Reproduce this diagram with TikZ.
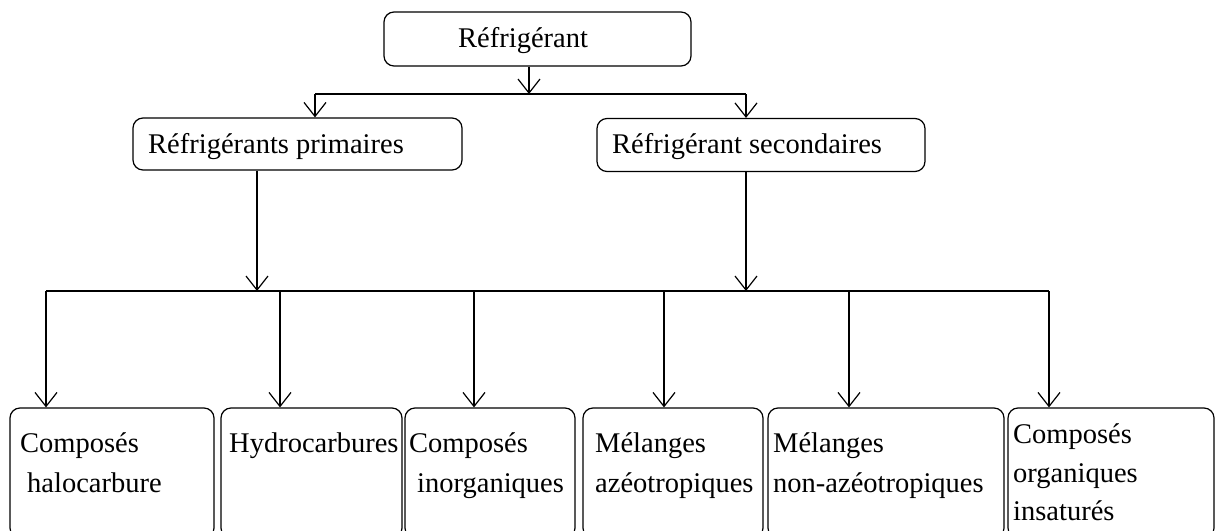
\documentclass[tikz,border=0pt]{standalone}
\usepackage{fontspec}
\setmainfont{Liberation Serif}
\usetikzlibrary{arrows.meta}
\begin{document}
\begin{tikzpicture}[x=1pt,y=-1pt,
  box/.style={draw, line width=1.2pt, rounded corners=10pt, inner sep=0pt},
  txt/.style={anchor=base west, inner sep=0pt, font=\fontsize{28.5}{30}\selectfont},
  link/.style={line width=1.2pt},
  arr/.style={link, -{Straight Barb[length=14pt,width=22pt,line width=1.2pt]}}]
\useasboundingbox (0,0) rectangle (1215,530);
\clip (0,0) rectangle (1215,530);

% boxes
\node[box, minimum width=307pt, minimum height=54pt] (top) at (537.5,39) {};
\node[box, minimum width=329pt, minimum height=52pt] (prim) at (297.5,144) {};
\node[box, minimum width=328pt, minimum height=53pt] (sec) at (761,145) {};
\node[box, minimum width=204pt, minimum height=130pt] (b1) at (112,473) {};
\node[box, minimum width=181pt, minimum height=130pt] (b2) at (311.5,473) {};
\node[box, minimum width=170pt, minimum height=130pt] (b3) at (490,473) {};
\node[box, minimum width=180pt, minimum height=130pt] (b4) at (673,473) {};
\node[box, minimum width=236pt, minimum height=130pt] (b5) at (886,473) {};
\node[box, minimum width=206pt, minimum height=130pt] (b6) at (1111,473) {};

% labels
\node[txt] (ttop) at (458,47) {Réfrigérant};
\node[txt] (tprim) at (148,153) {Réfrigérants primaires};
\node[txt] (tsec) at (612,153) {Réfrigérant secondaires};
\node[txt] (t1a) at (20,452) {Composés};
\node[txt] (t1b) at (27,492) {halocarbure};
\node[txt] (t2a) at (229,452) {Hydrocarbures};
\node[txt] (t3a) at (409,452) {Composés};
\node[txt] (t3b) at (417,492) {inorganiques};
\node[txt] (t4a) at (595,452) {Mélanges};
\node[txt] (t4b) at (595,492) {azéotropiques};
\node[txt] (t5a) at (773,452) {Mélanges};
\node[txt] (t5b) at (773,492) {non-azéotropiques};
\node[txt] (t6a) at (1013,443) {Composés};
\node[txt] (t6b) at (1013,482) {organiques};
\node[txt] (t6c) at (1013,520) {insaturés};

% junction points
\coordinate (j0) at (529,94);
\coordinate (jl) at (315,94);
\coordinate (jr) at (746,94);
\coordinate (k1) at (257,291);
\coordinate (k2) at (746,291);
\coordinate (d1) at (46,291);
\coordinate (d2) at (280,291);
\coordinate (d3) at (474,291);
\coordinate (d4) at (664,291);
\coordinate (d5) at (849,291);
\coordinate (d6) at (1049,291);

% first level
\draw[arr] (top.south -| j0) -- (j0);
\draw[link] (jl) -- (jr);
\draw[arr] (jl) -- (prim.north -| jl);
\draw[arr] (jr) -- (sec.north -| jr);

% second level
\draw[arr] (prim.south -| k1) -- (k1);
\draw[arr] (sec.south -| k2) -- (k2);
\draw[link] (d1) -- (d6);
\draw[arr] (d1) -- (b1.north -| d1);
\draw[arr] (d2) -- (b2.north -| d2);
\draw[arr] (d3) -- (b3.north -| d3);
\draw[arr] (d4) -- (b4.north -| d4);
\draw[arr] (d5) -- (b5.north -| d5);
\draw[arr] (d6) -- (b6.north -| d6);
\end{tikzpicture}
\end{document}
